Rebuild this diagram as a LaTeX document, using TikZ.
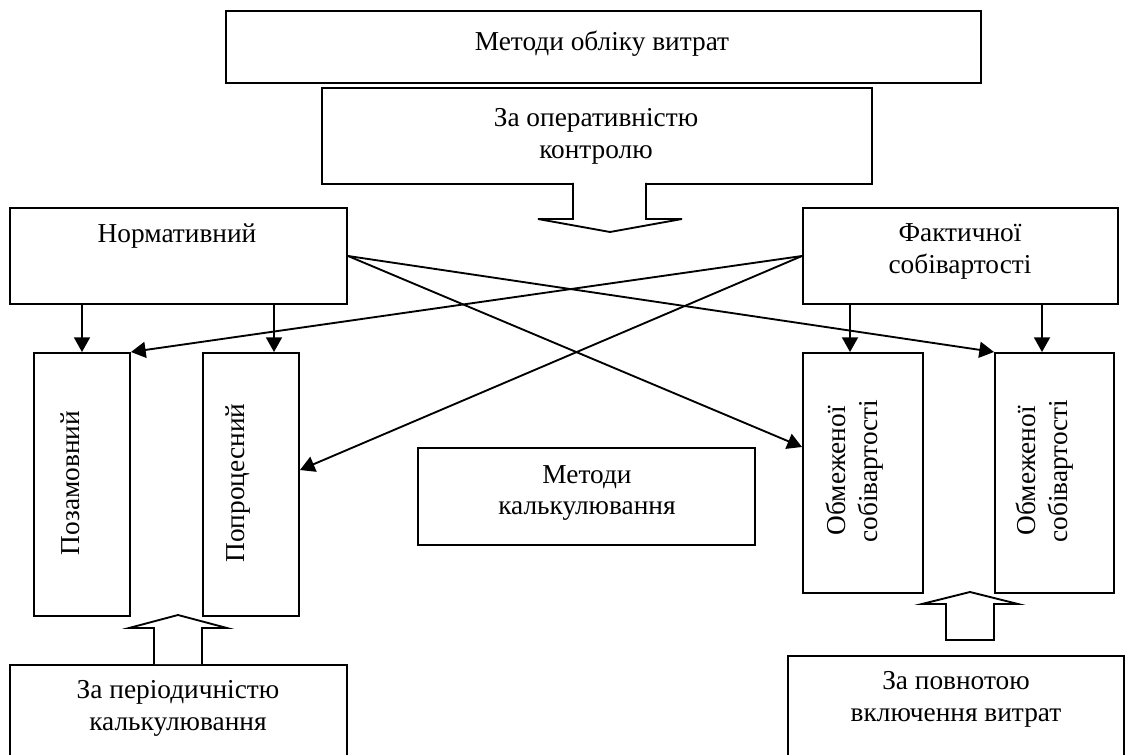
\documentclass[tikz,border=0pt]{standalone}
\usepackage{fontspec}
\setmainfont{Liberation Serif}
\usetikzlibrary{arrows.meta,calc}
\tikzset{
  box/.style={draw,line width=1.5pt,rectangle,inner sep=0pt,anchor=north west},
  txt/.style={align=center,inner sep=0pt,font=\fontsize{20.5}{24}\selectfont},
  arr/.style={line width=1.4pt,-{Triangle[length=11pt,width=12pt]}},
  blk/.style={draw,line width=1.4pt,fill=white,line join=miter}
}
\begin{document}
\begin{tikzpicture}[x=0.75pt,y=-0.75pt]
\useasboundingbox (0,0) rectangle (1128,755);
\clip (0,0) rectangle (1128,755);
% boxes
\node[box,minimum width=755*0.75pt,minimum height=72*0.75pt] (top) at (225,10) {};
\node[txt] (toptxt) at (602,44) {Методи обліку витрат};
\node[box,minimum width=550*0.75pt,minimum height=96*0.75pt] (op) at (321,87) {};
\node[txt] (optxt) at (596,136) {За оперативністю\\контролю};
\node[box,minimum width=337*0.75pt,minimum height=96*0.75pt] (norm) at (9,207) {};
\node[txt] (normtxt) at (177,236) {Нормативний};
\node[box,minimum width=315*0.75pt,minimum height=96*0.75pt] (fact) at (802,207) {};
\node[txt] (facttxt) at (960,251) {Фактичної\\собівартості};
\node[box,minimum width=96*0.75pt,minimum height=263*0.75pt] (pz) at (33,352) {};
\node[txt,rotate=90] (pztxt) at (70,483) {Позамовний};
\node[box,minimum width=96*0.75pt,minimum height=263*0.75pt] (pp) at (202,352) {};
\node[txt,rotate=90] (pptxt) at (238,483) {Попроцесний};
\node[box,minimum width=337*0.75pt,minimum height=97*0.75pt] (calc) at (417,447) {};
\node[txt] (calctxt) at (587,493) {Методи\\калькулювання};
\node[box,minimum width=120*0.75pt,minimum height=240*0.75pt] (ob1) at (802,352) {};
\node[txt,rotate=90] (ob1txt) at (855,471) {Обмеженої\\собівартості};
\node[box,minimum width=119*0.75pt,minimum height=240*0.75pt] (ob2) at (994,352) {};
\node[txt,rotate=90] (ob2txt) at (1045,471) {Обмеженої\\собівартості};
\node[box,minimum width=337*0.75pt,minimum height=110*0.75pt] (per) at (9,664) {};
\node[txt] (pertxt) at (178,708) {За періодичністю\\калькулювання};
\node[box,minimum width=336*0.75pt,minimum height=120*0.75pt] (pov) at (787,655) {};
\node[txt] (povtxt) at (956,699) {За повнотою\\включення витрат};
% block arrows
\draw[blk] (573,183) -- (573,219) -- (538,219) -- (610,232) -- (682,219) -- (646,219) -- (646,183);
\draw[blk] (154,664) -- (154,628) -- (129,628) -- (178,615) -- (227,628) -- (202,628) -- (202,664);
\draw[blk] (946,640) -- (946,604) -- (922,604) -- (970,592) -- (1018,604) -- (994,604) -- (994,640) -- cycle;
% connectors
\coordinate (nr) at ($(norm.north east)+(0,49)$);
\coordinate (fl) at ($(fact.north west)+(0,49)$);
\draw[arr] (norm.south west -| 82,0) -- (pz.north west -| 82,0);
\draw[arr] (norm.south west -| 274,0) -- (pp.north west -| 274,0);
\draw[arr] (fact.south west -| 850,0) -- (ob1.north west -| 850,0);
\draw[arr] (fact.south west -| 1042,0) -- (ob2.north west -| 1042,0);
\draw[arr] (nr) -- (ob2.north west);
\draw[arr] (nr) -- ($(ob1.north west)+(0,95)$);
\draw[arr] (fl) -- (pz.north east);
\draw[arr] (fl) -- ($(pp.north east)+(0,118)$);
\end{tikzpicture}
\end{document}
